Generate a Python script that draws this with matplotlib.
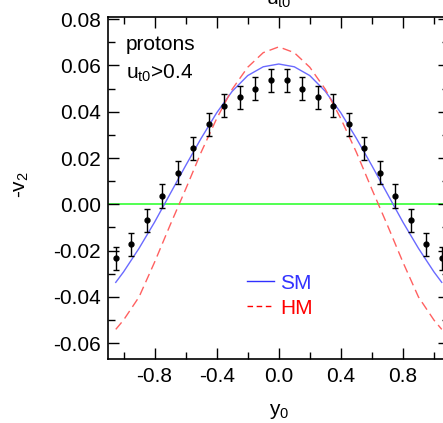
import matplotlib
matplotlib.use('Agg')
import matplotlib.pyplot as plt
from matplotlib.lines import Line2D
import numpy as np

plt.rcParams['font.family'] = ['Liberation Sans', 'DejaVu Sans']
plt.rcParams['mathtext.default'] = 'regular'
plt.rcParams['axes.unicode_minus'] = False

# measured points (protons, u_t0 > 0.4)
y0_data = [-1.05, -0.95, -0.85, -0.75, -0.65, -0.55, -0.45, -0.35, -0.25, -0.15, -0.05,
           0.05, 0.15, 0.25, 0.35, 0.45, 0.55, 0.65, 0.75, 0.85, 0.95, 1.05]
v2_data = [-0.0233, -0.0173, -0.0069, 0.0036, 0.0137, 0.0242, 0.0346, 0.0425, 0.0462, 0.0499, 0.0536,
           0.0536, 0.0499, 0.0462, 0.0425, 0.0346, 0.0242, 0.0137, 0.0036, -0.0069, -0.0173, -0.0233]
v2_err = [0.005] * len(y0_data)

# model curves
y0_model = [-1.05, -1.0, -0.9, -0.8, -0.7, -0.6, -0.5, -0.4, -0.3, -0.2, -0.1, 0.0,
            0.1, 0.2, 0.3, 0.4, 0.5, 0.6, 0.7, 0.8, 0.9, 1.0, 1.05]
v2_sm = [-0.0337, -0.0292, -0.0190, -0.0077, 0.0045, 0.0167, 0.0285, 0.0395, 0.0488, 0.0556, 0.0594, 0.0606,
         0.0594, 0.0556, 0.0488, 0.0395, 0.0285, 0.0167, 0.0045, -0.0077, -0.0190, -0.0292, -0.0337]
v2_hm = [-0.0540, -0.0500, -0.0400, -0.0250, -0.0090, 0.0065, 0.0225, 0.0370, 0.0497, 0.0592, 0.0655, 0.0680,
         0.0655, 0.0592, 0.0497, 0.0370, 0.0225, 0.0065, -0.0090, -0.0250, -0.0400, -0.0500, -0.0540]

FS = 15

fig = plt.figure(figsize=(4.43, 4.23), dpi=100)
ax = fig.add_axes([108 / 443, 64 / 423, 341.5 / 443, 342 / 423])

ax.axhline(0.0, color='#33ff33', lw=1.2, zorder=1)
ax.plot(y0_model, v2_sm, color='#6a6aff', lw=1.0, zorder=2)
ax.plot(y0_model, v2_hm, color='#ff6060', lw=1.0, dashes=(6.5, 3.6), zorder=2)
ax.errorbar(y0_data, v2_data, yerr=v2_err, fmt='o', color='black', ms=3.5,
            elinewidth=1.0, capsize=2.5, capthick=1.0, zorder=3)

ax.set_xlim(-1.1, 1.1)
ax.set_ylim(-0.0668, 0.0809)
ax.set_xticks([-0.8, -0.4, 0.0, 0.4, 0.8])
ax.set_xticks([-1.0, -0.6, -0.2, 0.2, 0.6, 1.0], minor=True)
ax.set_yticks([-0.06, -0.04, -0.02, 0.0, 0.02, 0.04, 0.06, 0.08])
ax.set_yticks(np.arange(-0.06, 0.081, 0.01), minor=True)
ax.set_xticklabels(['-0.8', '-0.4', '0.0', '0.4', '0.8'])
ax.set_yticklabels(['-0.06', '-0.04', '-0.02', '0.00', '0.02', '0.04', '0.06', '0.08'])
ax.tick_params(which='both', direction='in', top=True, right=True, width=1.0, labelsize=FS)
ax.tick_params(which='major', length=8)
ax.tick_params(which='minor', length=4.8)
ax.tick_params(axis='y', pad=5)
ax.tick_params(axis='x', pad=6)
for sp in ax.spines.values():
    sp.set_linewidth(1.2)

ax.set_xlabel('y$_0$', fontsize=FS)
ax.set_ylabel('-v$_2$', fontsize=FS)
ax.xaxis.set_label_coords(0.5007, -0.127)
ax.yaxis.set_label_coords(-0.225, 0.509)

ax.text(0.0527, 0.9035, 'protons', transform=ax.transAxes, fontsize=FS, va='baseline')
ax.text(0.0527, 0.8187, 'u$_{t0}$>0.4', transform=ax.transAxes, fontsize=FS, va='baseline')
# label of the panel above, mostly cut off by the frame edge
ax.text(0.5007, 1.037, 'u$_{t0}$', transform=ax.transAxes, fontsize=FS,
        ha='center', va='baseline', clip_on=False)

handles = [Line2D([], [], color='#3030ff', lw=1.0),
           Line2D([], [], color='#ff0000', lw=1.0, dashes=(4.0, 2.6))]
leg = ax.legend(handles, ['SM', 'HM'], loc='upper left', bbox_to_anchor=(0.407, 0.25),
                frameon=False, fontsize=FS, handlelength=1.3, handletextpad=0.3,
                borderpad=0, borderaxespad=0, labelspacing=0.3)
for txt, c in zip(leg.get_texts(), ['#3333ff', '#ff0000']):
    txt.set_color(c)

fig.savefig('out.png', dpi=100)
